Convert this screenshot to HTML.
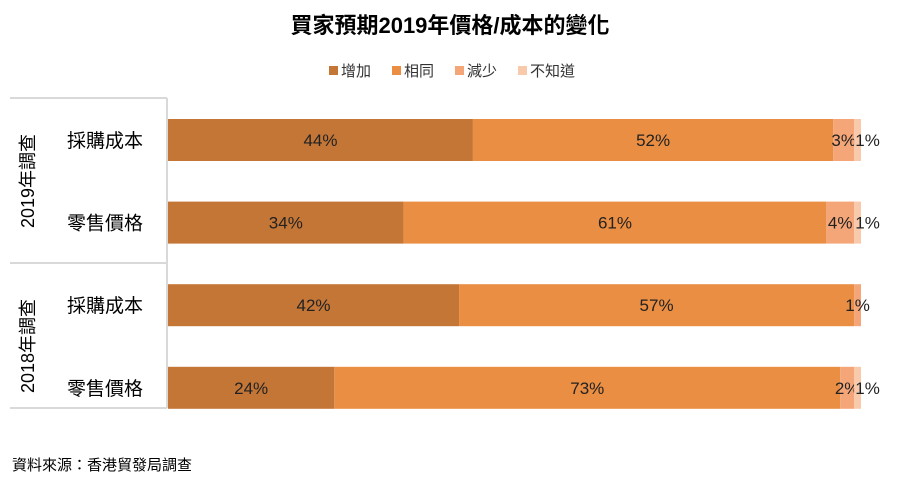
<!DOCTYPE html>
<html><head><meta charset="utf-8">
<style>
body{margin:0;background:#fff;font-family:"Liberation Sans","Noto Sans CJK TC",sans-serif;}
svg text{font-family:"Liberation Sans","Noto Sans CJK TC",sans-serif;}
</style></head>
<body>
<svg width="900" height="482" viewBox="0 0 900 482" xmlns="http://www.w3.org/2000/svg">
<text x="450" y="33" text-anchor="middle" font-size="22" font-weight="bold" fill="#000">買家預期2019年價格/成本的變化</text>
<g id="legend"></g>
<g id="frame" stroke="#d9d9d9" stroke-width="2" fill="none">
<line x1="10" y1="98" x2="167" y2="98"/>
<line x1="10" y1="263" x2="167" y2="263"/>
<line x1="10" y1="408" x2="167" y2="408"/>
<line x1="167" y1="98" x2="167" y2="408"/>
</g>
<text transform="translate(34,181) rotate(-90)" text-anchor="middle" font-size="18" fill="#000">2019年調查</text>
<text transform="translate(34,346) rotate(-90)" text-anchor="middle" font-size="18" fill="#000">2018年調查</text>
<g id="bars"></g>
<text x="12" y="470" font-size="15" fill="#000">資料來源：香港貿發局調查</text>
</svg>
<script>
const categories = ["採購成本","零售價格","採購成本","零售價格"];
const seriesNames = ["增加","相同","減少","不知道"];
const increase = [44,34,42,24];
const same = [52,61,57,73];
const decrease = [3,4,1,2];
const unknown = [1,1,0,1];
const colors = ["#C47637","#E98E42","#F4A678","#F9C9AB"];
const NS="http://www.w3.org/2000/svg";
const x0=168, plotW=693, rowTop=119, rowStep=82.6, barH=42;
const xScale=v=>v/100*plotW;
function mk(tag,attrs,parent){const e=document.createElementNS(NS,tag);for(const k in attrs)e.setAttribute(k,attrs[k]);parent.appendChild(e);return e;}
const series=[increase,same,decrease,unknown];
const bars=document.getElementById('bars');
const svg=document.querySelector('svg');
categories.forEach((c,i)=>{
  const y=rowTop+i*rowStep;
  const lab=mk('text',{x:105,y:y+barH/2+7,'text-anchor':'middle','font-size':19,fill:'#000'},svg);
  lab.textContent=c;
  
  
  let acc=0;
  series.forEach((s,j)=>{
    const v=s[i];
    if(v<=0) return;
    const x=x0+xScale(acc);
    const r=mk('rect',{x:x,y:y,width:xScale(v),height:barH,fill:colors[j]},bars);
    
    
    let cx=x+xScale(v)/2;
    if(j===3) cx+=10;
    const t=mk('text',{x:cx,y:y+barH/2+6,'text-anchor':'middle','font-size':17,fill:'#222'},bars);
    t.textContent=v+'%';
    
    
    acc+=v;
  });
});
const lg=document.getElementById('legend');
const lx=[329,392,455,518];
seriesNames.forEach((n,j)=>{
  const r=mk('rect',{x:lx[j],y:66,width:9,height:9,fill:colors[j]},lg);
  
  
  const t=mk('text',{x:lx[j]+12,y:76,'font-size':15,fill:'#333'},lg);
  t.textContent=n;
  
  
});
</script>
</body></html>
